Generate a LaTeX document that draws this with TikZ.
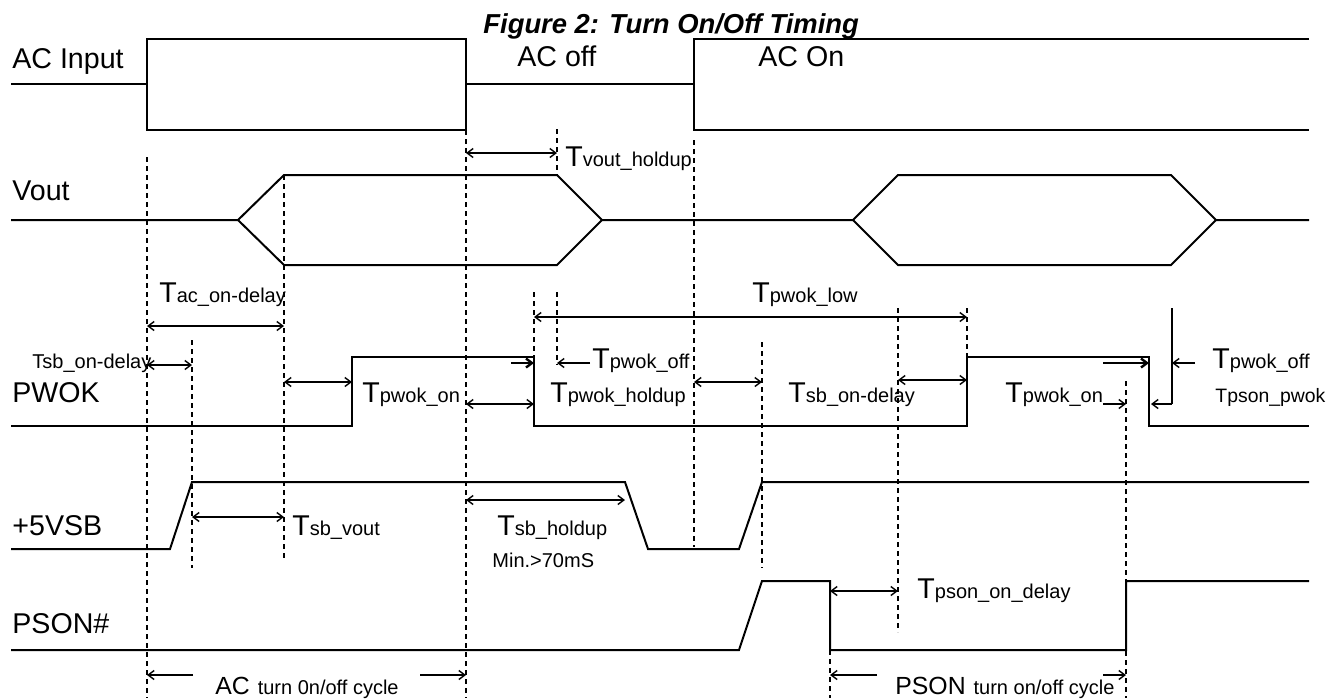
\documentclass[tikz,border=0pt]{standalone}
\usepackage{fontspec}
\setmainfont{Liberation Sans}
\usetikzlibrary{arrows.meta}
\newcommand{\biglab}{\fontsize{14.3}{16}\selectfont}
\newcommand{\midlab}{\fontsize{12.4}{14}\selectfont}
\newcommand{\sublab}{\fontsize{10}{12}\selectfont}
\newcommand{\tlab}[1]{{\biglab T}{\sublab #1}}

\begin{document}
\begin{tikzpicture}[x=0.5pt, y=-0.5pt,
  >={Straight Barb[length=3pt, width=4.5pt]},
  sig/.style={line width=1pt, line join=miter},
  guide/.style={line width=0.75pt, dash pattern=on 2.5pt off 2pt},
  dimline/.style={line width=0.7pt},
  pushline/.style={line width=1.2pt},
  lab/.style={anchor=base west, inner sep=0pt, font=\biglab}]
  \useasboundingbox (0,0) rectangle (1343,698);

  \node[lab, font=\fontsize{13.7}{15}\selectfont\bfseries\itshape] (title) at (483,33) {Figure 2: Turn On/Off Timing};

  \node[lab] (acin)  at (12,68)  {AC Input};
  \node[lab] (acoff) at (517,66) {AC off};
  \node[lab] (acon)  at (758,66) {AC On};
  \node[lab] (vout)  at (12,200) {Vout};
  \node[lab] (pwok)  at (12,402) {PWOK};
  \node[lab] (vsb)   at (12,535) {+5VSB};
  \node[lab] (pson)  at (12,633) {PSON\#};

  \draw[sig] (11,84) -- (147,84);
  \draw[sig] (147,39) rectangle (466,130);
  \draw[sig] (466,84) -- (694,84);
  \draw[sig] (1309,39) -- (694,39) -- (694,130) -- (1309,130);

  \draw[sig] (11,220) -- (238,220) -- (284,175) -- (557,175) -- (602,220) -- (853,220) -- (898,175) -- (1171,175) -- (1216,220) -- (1309,220);
  \draw[sig] (238,220) -- (284,265) -- (557,265) -- (602,220);
  \draw[sig] (853,220) -- (898,265) -- (1171,265) -- (1216,220);

  \draw[sig] (11,426) -- (352,426) -- (352,357) -- (534,357) -- (534,426) -- (967,426) -- (967,357) -- (1149,357) -- (1149,426) -- (1309,426);
  \draw[sig] (11,549) -- (170,549) -- (192,482) -- (625,482) -- (648,549) -- (739,549) -- (762,482) -- (1309,482);
  \draw[sig] (11,650) -- (739,650) -- (762,581) -- (830,581) -- (830,650) -- (1126,650) -- (1126,581) -- (1309,581);

  \draw[guide] (147,157) -- (147,698);
  \draw[guide] (192,340) -- (192,568);
  \draw[guide] (284,175) -- (284,560);
  \draw[guide] (466,130) -- (466,698);
  \draw[guide] (557,129) -- (557,175);
  \draw[guide] (534,292) -- (534,357);
  \draw[guide] (557,292) -- (557,365);
  \draw[guide] (694,140) -- (694,547);
  \draw[guide] (762,342) -- (762,568);
  \draw[guide] (898,308) -- (898,632);
  \draw[guide] (967,308) -- (967,357);
  \draw[guide] (1126,381) -- (1126,698);
  \draw[guide] (830,650) -- (830,698);
  \draw[dimline] (1172,308) -- (1172,404);

  \draw[dimline, <->] (466,153) -- (557,153);
  \node[lab] (tvhold) at (565,166) {\tlab{vout\_holdup}};
  \draw[dimline, <->] (147,326) -- (284,326);
  \node[lab] (tacon) at (159,302) {\tlab{ac\_on-delay}};
  \draw[dimline, <->] (147,365) -- (192,365);
  \node[lab, font=\sublab] (tsbon1) at (32,368) {Tsb\_on-delay};
  \draw[dimline, <->] (284,382) -- (352,382);
  \node[lab] (tpon1) at (362,402) {\tlab{pwok\_on}};
  \draw[dimline, <->] (534,317) -- (967,317);
  \node[lab] (tplow) at (752,302) {\tlab{pwok\_low}};
  \draw[pushline, ->] (511,363) -- (534,363);
  \draw[dimline, ->] (590,363) -- (557,363);
  \node[lab] (tpoff1) at (592,368) {\tlab{pwok\_off}};
  \draw[dimline, <->] (466,404) -- (534,404);
  \node[lab] (tphold) at (550,402) {\tlab{pwok\_holdup}};
  \draw[dimline, <->] (694,382) -- (762,382);
  \draw[dimline, <->] (898,380) -- (967,380);
  \node[lab] (tsbon2) at (788,402) {\tlab{sb\_on-delay}};
  \node[lab] (tpon2) at (1005,402) {\tlab{pwok\_on}};
  \draw[dimline, ->] (1103,404) -- (1126,404);
  \draw[pushline, ->] (1103,363) -- (1149,363);
  \draw[dimline, ->] (1195,363) -- (1172,363);
  \node[lab] (tpoff2) at (1212,368) {\tlab{pwok\_off}};
  \draw[dimline, ->] (1172,404) -- (1151,404);
  \node[lab, font=\fontsize{9.7}{12}\selectfont] (tpsonpw) at (1215,402) {Tpson\_pwok};

  \draw[dimline, <->] (192,517) -- (284,517);
  \node[lab] (tsbvout) at (292,535) {\tlab{sb\_vout}};
  \draw[dimline, <->] (466,500) -- (625,500);
  \node[lab] (tsbhold) at (497,535) {\tlab{sb\_holdup}};
  \node[lab, font=\sublab] (minhold) at (492,567) {Min.>70mS};
  \draw[dimline, <->] (830,591) -- (898,591);
  \node[lab] (tpsonon) at (917,598) {\tlab{pson\_on\_delay}};

  \draw[dimline, ->] (193,675) -- (147,675);
  \draw[dimline, ->] (420,675) -- (466,675);
  \node[lab] (accycle) at (215,694) {{\midlab AC} {\sublab turn 0n/off cycle}};
  \draw[dimline, ->] (877,675) -- (830,675);
  \draw[dimline, ->] (1103,675) -- (1126,675);
  \node[lab] (psoncycle) at (895,694) {{\midlab PSON} {\sublab turn on/off cycle}};
\end{tikzpicture}
\end{document}
